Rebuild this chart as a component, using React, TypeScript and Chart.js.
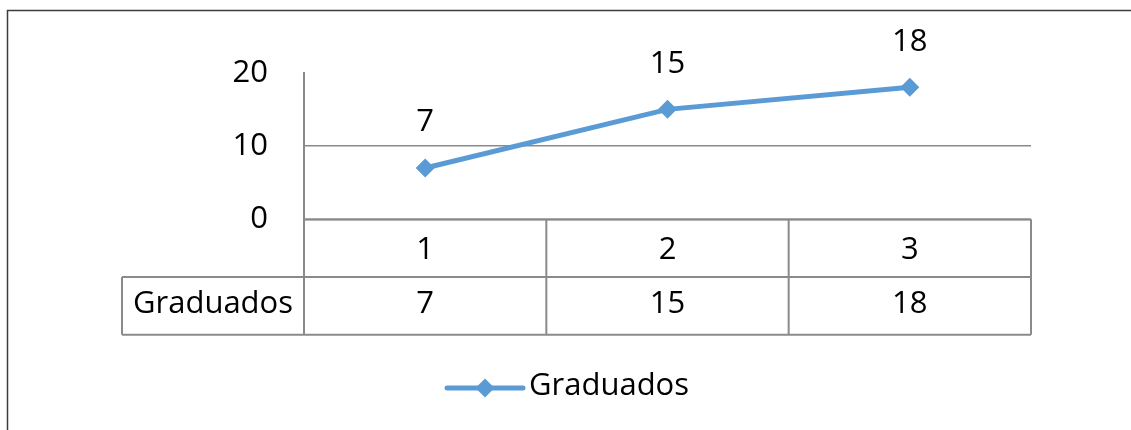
import React, { useEffect, useRef } from 'react';
import { Chart, registerables } from 'chart.js';

Chart.register(...registerables);

const categories = ['1', '2', '3'];
const seriesName = 'Graduados';
const graduados = [7, 15, 18];
const yTicks = [0, 10, 20];

const FONT = '"Open Sans", sans-serif';
const FONT_SIZE = 31;
const FONT_WEIGHT = 500;
const LINE_COLOR = '#5B9BD5';
const GRID = '#8a8a8a';
const ROW_H = 57.7;

const decorPlugin = {
  id: 'decor',
  afterDraw(chart: any) {
    const { ctx, chartArea, scales } = chart;
    const xs = scales.x;
    const left = chartArea.left;
    const right = chartArea.right;
    const top = chartArea.bottom;
    const r1 = top + ROW_H;
    const r2 = top + 2 * ROW_H;
    const labelLeft = 122;
    const step = (right - left) / categories.length;
    ctx.save();
    // data table lines
    ctx.strokeStyle = GRID;
    ctx.lineWidth = 2;
    ctx.beginPath();
    ctx.moveTo(left, top);
    ctx.lineTo(right, top);
    ctx.moveTo(labelLeft, r1);
    ctx.lineTo(right, r1);
    ctx.moveTo(labelLeft, r2);
    ctx.lineTo(right, r2);
    for (let i = 0; i < categories.length; i++) {
      const c = xs.getPixelForValue(i);
      if (i === 0) {
        ctx.moveTo(c - step / 2, top);
        ctx.lineTo(c - step / 2, r2);
      }
      ctx.moveTo(c + step / 2, top);
      ctx.lineTo(c + step / 2, r2);
    }
    ctx.moveTo(labelLeft, r1);
    ctx.lineTo(labelLeft, r2);
    ctx.stroke();

    // data table values
    ctx.fillStyle = '#000';
    ctx.font = `${FONT_WEIGHT} ${FONT_SIZE}px ${FONT}`;
    ctx.textAlign = 'center';
    ctx.textBaseline = 'alphabetic';
    ctx.fillText(seriesName, (labelLeft + left) / 2, r2 - 21.4);
    graduados.forEach((v, i) => {
      ctx.fillText(String(v), xs.getPixelForValue(i), r2 - 21.4);
    });

    // data labels above points
    const meta = chart.getDatasetMeta(0);
    meta.data.forEach((pt: any, i: number) => {
      ctx.fillText(String(graduados[i]), pt.x, pt.y - 36.5);
    });

    // legend
    const ly = 388;
    const lx0 = 447;
    const lx1 = 523;
    ctx.strokeStyle = LINE_COLOR;
    ctx.lineWidth = 5;
    ctx.lineCap = 'round';
    ctx.beginPath();
    ctx.moveTo(lx0, ly);
    ctx.lineTo(lx1, ly);
    ctx.stroke();
    const mx = (lx0 + lx1) / 2;
    const r = 9.5;
    ctx.fillStyle = LINE_COLOR;
    ctx.beginPath();
    ctx.moveTo(mx - r, ly);
    ctx.lineTo(mx, ly - r);
    ctx.lineTo(mx + r, ly);
    ctx.lineTo(mx, ly + r);
    ctx.closePath();
    ctx.fill();
    ctx.fillStyle = '#000';
    ctx.textAlign = 'left';
    ctx.fillText(seriesName, 529, 395);

    // outer chart border
    ctx.strokeStyle = '#3c3c3c';
    ctx.lineWidth = 1.5;
    ctx.lineCap = 'butt';
    ctx.beginPath();
    ctx.moveTo(7.5, 430);
    ctx.lineTo(7.5, 10.5);
    ctx.lineTo(1131, 10.5);
    ctx.stroke();
    ctx.restore();
  },
};

export default function App() {
  const ref = useRef<HTMLCanvasElement | null>(null);
  useEffect(() => {
    if (!ref.current) return;
    Chart.defaults.font.family = FONT;
    const chart = new Chart(ref.current, {
      type: 'line',
      data: {
        labels: categories,
        datasets: [
          {
            label: seriesName,
            data: graduados,
            borderColor: LINE_COLOR,
            backgroundColor: LINE_COLOR,
            borderWidth: 5,
            pointStyle: 'rectRot',
            pointRadius: 9.5,
            pointBorderWidth: 0,
            pointBackgroundColor: LINE_COLOR,
            tension: 0,
          },
        ],
      },
      options: {
        animation: false,
        responsive: false,
        maintainAspectRatio: false,
        layout: { padding: { top: 72.7, right: 100, bottom: 430 - 219.3 - 2 * ROW_H, left: 0 } },
        plugins: { legend: { display: false }, tooltip: { enabled: false } },
        scales: {
          x: {
            type: 'category',
            offset: true,
            grid: { display: false, drawTicks: false },
            border: { display: false },
            ticks: { color: '#000', font: { size: FONT_SIZE, family: FONT, weight: FONT_WEIGHT }, padding: 12 },
            afterFit: (s: any) => {
              s.height = 2 * ROW_H;
            },
          },
          y: {
            min: 0,
            max: 20,
            grid: {
              drawTicks: false,
              lineWidth: 1.5,
              color: (c: any) => (c.tick && c.tick.value === 20 ? 'rgba(0,0,0,0)' : GRID),
            },
            border: { display: true, color: GRID, width: 2 },
            ticks: { color: '#000', font: { size: FONT_SIZE, family: FONT, weight: FONT_WEIGHT }, padding: 36 },
            afterBuildTicks: (s: any) => {
              s.ticks = yTicks.map((v) => ({ value: v }));
            },
            afterFit: (s: any) => {
              s.width = 304;
            },
          },
        },
      },
      plugins: [decorPlugin],
    });
    return () => chart.destroy();
  }, []);
  return (
    <div style={{ position: 'absolute', left: 0, top: 0, width: 1131, height: 430, background: '#fff' }}>
      <canvas ref={ref} width={1131} height={430} />
    </div>
  );
}
